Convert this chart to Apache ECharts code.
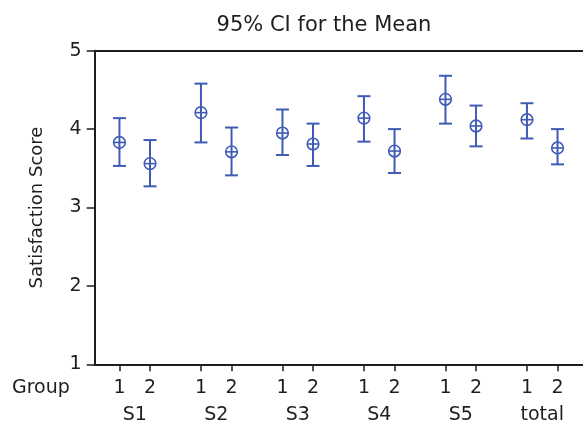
<!DOCTYPE html>
<html>
<head>
<meta charset="utf-8">
<script src="https://cdn.jsdelivr.net/npm/echarts@6/dist/echarts.min.js"></script>
<style>
html,body{margin:0;padding:0;background:#fff;}
#chart{width:583px;height:425px;}
</style>
</head>
<body>
<div id="chart"></div>
<script>
// ---- data ----
const groups = ['S1', 'S2', 'S3', 'S4', 'S5', 'total'];
const subLabels = ['1', '2'];
const mean1  = [3.83, 4.21, 3.95, 4.14, 4.38, 4.12];
const lower1 = [3.53, 3.83, 3.67, 3.84, 4.07, 3.88];
const upper1 = [4.14, 4.58, 4.25, 4.42, 4.68, 4.33];
const mean2  = [3.56, 3.71, 3.81, 3.72, 4.04, 3.76];
const lower2 = [3.27, 3.41, 3.53, 3.44, 3.78, 3.55];
const upper2 = [3.86, 4.02, 4.07, 4.00, 4.30, 4.00];
const yMin = 1, yMax = 5, yStep = 1;
const titleText = '95% CI for the Mean';
const yName = 'Satisfaction Score';
const xGroupName = 'Group';

// ---- layout (slot units along x) ----
const GROUP_STEP = 8, SUB_OFFSET = 3;
const FONT = 'DejaVu Sans';
const BLUE = '#3f5bb5';
const INK = '#1e1e1e';

const pos = [];
const posLabel = {};
const points = [];
groups.forEach((g, i) => {
  const x1 = i * GROUP_STEP, x2 = i * GROUP_STEP + SUB_OFFSET;
  pos.push(x1, x2);
  posLabel[x1] = subLabels[0];
  posLabel[x2] = subLabels[1];
  points.push([x1, lower1[i], mean1[i], upper1[i]]);
  points.push([x2, lower2[i], mean2[i], upper2[i]]);
});
const centers = groups.map((g, i) => i * GROUP_STEP + SUB_OFFSET / 2);
const centerLabel = {};
centers.forEach((c, i) => centerLabel[c] = groups[i]);

const xMin = -2.43, xMax = 45.5;

function renderItem(params, api) {
  const x = api.value(0);
  const pLo = api.coord([x, api.value(1)]);
  const pM = api.coord([x, api.value(2)]);
  const pHi = api.coord([x, api.value(3)]);
  const r = 5.8, cap = 6.5;
  const ls = { stroke: BLUE, lineWidth: 2, fill: null };
  return {
    type: 'group',
    children: [
      { type: 'line', shape: { x1: pLo[0], y1: pLo[1], x2: pHi[0], y2: pHi[1] }, style: ls },
      { type: 'line', shape: { x1: pLo[0] - cap, y1: pLo[1], x2: pLo[0] + cap, y2: pLo[1] }, style: ls },
      { type: 'line', shape: { x1: pHi[0] - cap, y1: pHi[1], x2: pHi[0] + cap, y2: pHi[1] }, style: ls },
      { type: 'circle', shape: { cx: pM[0], cy: pM[1], r: r }, style: { stroke: BLUE, lineWidth: 1.6, fill: 'none' } },
      { type: 'line', shape: { x1: pM[0] - r, y1: pM[1], x2: pM[0] + r, y2: pM[1] }, style: { stroke: BLUE, lineWidth: 1.6 } }
    ]
  };
}

const chart = echarts.init(document.getElementById('chart'), null, { renderer: 'canvas' });
const axisLine = { show: true, onZero: false, lineStyle: { color: INK, width: 2 } };
chart.setOption({
  animation: false,
  backgroundColor: '#fff',
  textStyle: { fontFamily: FONT },
  grid: { left: 94.7, top: 50.7, width: 500, height: 313.6, containLabel: false },
  xAxis: [
    {
      type: 'value', position: 'bottom', min: xMin, max: xMax,
      axisLine: axisLine,
      splitLine: { show: false },
      axisTick: { show: true, customValues: pos, length: 7, lineStyle: { color: INK, width: 1.5 } },
      axisLabel: { show: true, customValues: pos, margin: 14, fontSize: 19, color: INK, fontFamily: FONT,
        formatter: v => posLabel[v] }
    },
    {
      type: 'value', position: 'bottom', min: xMin, max: xMax,
      axisLine: { show: false, onZero: false }, axisTick: { show: false }, splitLine: { show: false },
      axisLabel: { show: true, customValues: centers, margin: 41, fontSize: 19, color: INK, fontFamily: FONT,
        formatter: v => centerLabel[v] }
    },
    {
      type: 'value', position: 'top', min: xMin, max: xMax,
      axisLine: axisLine, axisTick: { show: false }, axisLabel: { show: false }, splitLine: { show: false }
    }
  ],
  yAxis: {
    type: 'value', min: yMin, max: yMax, interval: yStep,
    name: yName, nameLocation: 'middle', nameGap: 48,
    nameTextStyle: { fontSize: 18, color: INK, fontFamily: FONT },
    axisLine: axisLine,
    axisTick: { show: true, length: 8, lineStyle: { color: INK, width: 1.5 } },
    axisLabel: { margin: 13, fontSize: 19, color: INK, fontFamily: FONT },
    splitLine: { show: false }
  },
  graphic: [
    { type: 'text', x: 324, y: 26, style: { text: titleText, font: '21px "DejaVu Sans"', fill: INK, align: 'center', verticalAlign: 'middle' } },
    { type: 'text', x: 12, y: 388, style: { text: xGroupName, font: '19px "DejaVu Sans"', fill: INK, align: 'left', verticalAlign: 'middle' } }
  ],
  series: [{
    type: 'custom',
    renderItem: renderItem,
    encode: { x: 0, y: [1, 2, 3] },
    data: points,
    clip: false
  }]
});
</script>
</body>
</html>
